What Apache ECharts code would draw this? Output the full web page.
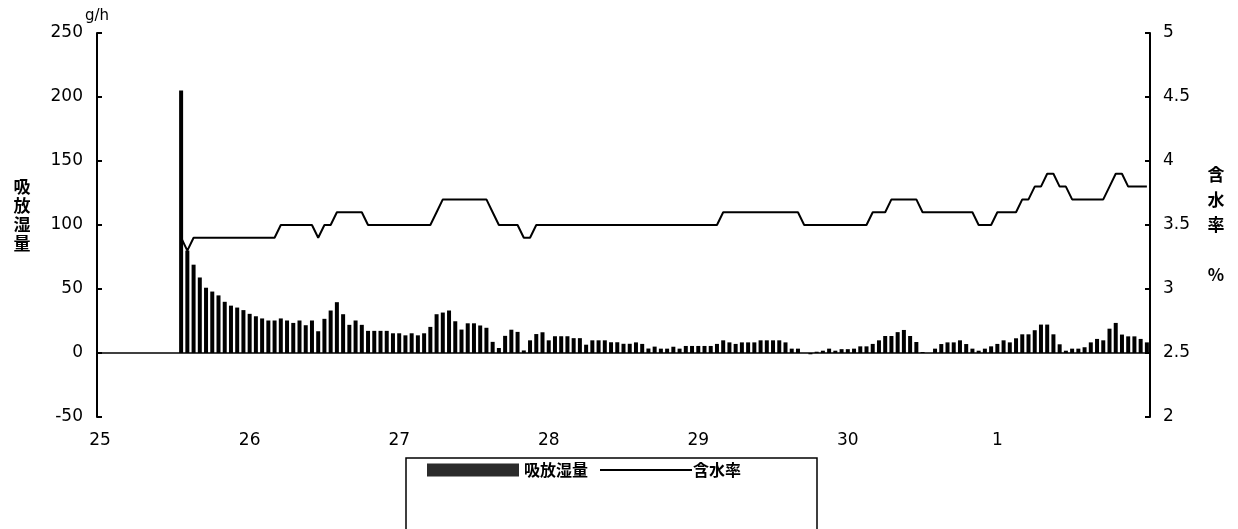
<!DOCTYPE html>
<html>
<head>
<meta charset="utf-8">
<title>吸放湿量・含水率</title>
<script src="https://cdn.jsdelivr.net/npm/echarts@6/dist/echarts.min.js"></script>
<style>
  html, body { margin: 0; padding: 0; background: #fff; }
  #chart { width: 1238px; height: 529px; }
</style>
</head>
<body>
<div id="chart"></div>
<script>
// Day labels on the time axis (one category per hour)
const dayLabels = ['25', '26', '27', '28', '29', '30', '1'];
const hoursPerDay = 24;
const totalHours = 169;
// Measurements begin at 13:00 on the 25th
const startHour = 13;

// Hourly moisture absorption / desorption (g/h)
const moistureFlux = [
  205, 80, 69, 59, 51, 48, 45, 40, 37, 35.5,
  33.5, 30.6, 28.7, 27, 25.4, 25.4, 27, 25.4, 23.5, 25.4,
  21.7, 25.4, 17, 26.7, 33.2, 39.7, 30.3, 22, 25.4, 22,
  17.3, 17.3, 17.3, 17.3, 15.4, 15.4, 13.8, 15.4, 13.8, 15.4,
  20.4, 30.3, 31.6, 33.2, 24.8, 18.3, 23.2, 23.2, 21.5, 19.7,
  8.7, 3.9, 13.4, 18.2, 16.5, 2, 9.9, 14.8, 16.2, 9.9,
  13.1, 13.1, 13.1, 11.6, 11.6, 6.5, 9.9, 9.9, 9.9, 8.4,
  8.4, 7.2, 7.2, 8.3, 7.1, 3.5, 5, 3.4, 3.4, 4.9,
  3.4, 5.5, 5.5, 5.5, 5.5, 5.5, 7.1, 9.9, 8.3, 7.1,
  8.3, 8.3, 8.3, 9.9, 9.9, 9.9, 9.9, 8.3, 3.4, 3.4,
  0, -1, 1, 1.8, 3.4, 1.8, 3, 3, 3.4, 5.2,
  5.2, 7.1, 9.9, 13.3, 13.3, 16.3, 18, 13.3, 8.6, 0.8,
  0, 3.4, 7, 8.3, 8.3, 9.9, 7, 3.4, 1.8, 3.4,
  5.2, 7.1, 9.9, 8.3, 11.5, 14.6, 14.6, 17.8, 22.2, 22.2,
  14.6, 6.8, 1.8, 3.4, 3.4, 4.5, 8.3, 11, 9.9, 19,
  23.5, 14.4, 13, 13, 11, 8.3
];

// Hourly moisture content (%)
const moistureContent = [
  3.4, 3.3, 3.4, 3.4, 3.4, 3.4, 3.4, 3.4, 3.4, 3.4,
  3.4, 3.4, 3.4, 3.4, 3.4, 3.4, 3.5, 3.5, 3.5, 3.5,
  3.5, 3.5, 3.4, 3.5, 3.5, 3.6, 3.6, 3.6, 3.6, 3.6,
  3.5, 3.5, 3.5, 3.5, 3.5, 3.5, 3.5, 3.5, 3.5, 3.5,
  3.5, 3.6, 3.7, 3.7, 3.7, 3.7, 3.7, 3.7, 3.7, 3.7,
  3.6, 3.5, 3.5, 3.5, 3.5, 3.4, 3.4, 3.5, 3.5, 3.5,
  3.5, 3.5, 3.5, 3.5, 3.5, 3.5, 3.5, 3.5, 3.5, 3.5,
  3.5, 3.5, 3.5, 3.5, 3.5, 3.5, 3.5, 3.5, 3.5, 3.5,
  3.5, 3.5, 3.5, 3.5, 3.5, 3.5, 3.5, 3.6, 3.6, 3.6,
  3.6, 3.6, 3.6, 3.6, 3.6, 3.6, 3.6, 3.6, 3.6, 3.6,
  3.5, 3.5, 3.5, 3.5, 3.5, 3.5, 3.5, 3.5, 3.5, 3.5,
  3.5, 3.6, 3.6, 3.6, 3.7, 3.7, 3.7, 3.7, 3.7, 3.6,
  3.6, 3.6, 3.6, 3.6, 3.6, 3.6, 3.6, 3.6, 3.5, 3.5,
  3.5, 3.6, 3.6, 3.6, 3.6, 3.7, 3.7, 3.8, 3.8, 3.9,
  3.9, 3.8, 3.8, 3.7, 3.7, 3.7, 3.7, 3.7, 3.7, 3.8,
  3.9, 3.9, 3.8, 3.8, 3.8, 3.8
];

// Left axis ticks (g/h) and right axis ticks (%)
const fluxAxis = { min: -50, max: 250, interval: 50 };
const contentAxis = { min: 2, max: 5, interval: 0.5 };

const hours = [];
for (let i = 0; i < totalHours; i++) {
  hours.push('h' + i);
}
const lead = new Array(startHour).fill(null);
const fluxData = lead.concat(moistureFlux);
const contentData = lead.concat(moistureContent);

const FONT = '"DejaVu Sans", "Liberation Sans", sans-serif';
const CJK = '"Noto Sans CJK JP", "Noto Sans CJK SC", sans-serif';

const chart = echarts.init(document.getElementById('chart'), null, { renderer: 'canvas' });
chart.setOption({
  animation: false,
  backgroundColor: '#fff',
  grid: { left: 97, right: 88, top: 33, bottom: 112, containLabel: false },
  legend: {
    left: 406,
    top: 458,
    orient: 'horizontal',
    padding: [4, 76, 80, 21],
    borderColor: '#000',
    borderWidth: 1.5,
    itemWidth: 92,
    itemHeight: 13,
    itemGap: 11,
    textStyle: { fontFamily: CJK, fontSize: 16, color: '#000', fontWeight: 'bold' },
    data: [
      { name: '吸放湿量', icon: 'rect', itemStyle: { color: '#2b2b2b' } },
      { name: '含水率', itemStyle: { opacity: 0 }, textStyle: { padding: [0, 0, 0, -4] } }
    ]
  },
  xAxis: {
    type: 'category',
    data: hours,
    boundaryGap: true,
    axisLine: { show: false, onZero: false },
    axisTick: { show: false },
    splitLine: { show: false },
    axisLabel: {
      margin: 15,
      interval: function (idx) {
        return idx % hoursPerDay === 0 && idx / hoursPerDay < dayLabels.length;
      },
      formatter: function (v, idx) {
        return dayLabels[Math.floor(idx / hoursPerDay)] || '';
      },
      fontFamily: FONT,
      fontSize: 17,
      color: '#000'
    }
  },
  yAxis: [
    {
      type: 'value',
      position: 'left',
      min: fluxAxis.min,
      max: fluxAxis.max,
      interval: fluxAxis.interval,
      name: 'g/h',
      nameLocation: 'end',
      nameGap: 9,
      nameTextStyle: { fontFamily: FONT, fontSize: 15, color: '#000' },
      axisLine: { show: true, lineStyle: { color: '#000', width: 2 } },
      axisTick: { show: true, inside: true, length: 5, lineStyle: { color: '#000', width: 2 } },
      splitLine: { show: false },
      axisLabel: { margin: 14, fontFamily: FONT, fontSize: 17, color: '#000' }
    },
    {
      type: 'value',
      position: 'right',
      min: contentAxis.min,
      max: contentAxis.max,
      interval: contentAxis.interval,
      axisLine: { show: true, lineStyle: { color: '#000', width: 2 } },
      axisTick: { show: true, inside: true, length: 5, lineStyle: { color: '#000', width: 2 } },
      splitLine: { show: false },
      axisLabel: { margin: 13, fontFamily: FONT, fontSize: 17, color: '#000' }
    },
    {
      // axis titles drawn beside each vertical axis
      type: 'value', position: 'left', show: true,
      min: 0, max: 1,
      axisLine: { show: false }, axisTick: { show: false }, axisLabel: { show: false }, splitLine: { show: false },
      name: '吸\n放\n湿\n量\n',
      nameLocation: 'middle',
      nameRotate: 0,
      nameGap: 75,
      nameTextStyle: { fontFamily: CJK, fontSize: 17, fontWeight: 'bold', color: '#000', align: 'center', lineHeight: 19 }
    },
    {
      type: 'value', position: 'right', show: true,
      min: 0, max: 1,
      axisLine: { show: false }, axisTick: { show: false }, axisLabel: { show: false }, splitLine: { show: false },
      name: '含\n水\n率\n\n%',
      nameLocation: 'middle',
      nameRotate: 0,
      nameGap: 66,
      nameTextStyle: { fontFamily: CJK, fontSize: 17, fontWeight: 'bold', color: '#000', align: 'center', lineHeight: 25 }
    }
  ],
  series: [
    {
      name: '吸放湿量',
      type: 'bar',
      yAxisIndex: 0,
      data: fluxData,
      barWidth: 4,
      itemStyle: { color: '#000' },
      markLine: {
        silent: true,
        symbol: ['none', 'none'],
        label: { show: false },
        lineStyle: { color: '#000', width: 1.5, type: 'solid' },
        data: [{ yAxis: 0 }]
      }
    },
    {
      name: '含水率',
      type: 'line',
      yAxisIndex: 1,
      data: contentData,
      symbol: 'none',
      showSymbol: false,
      connectNulls: false,
      lineStyle: { color: '#000', width: 2 },
      itemStyle: { color: '#000' }
    }
  ]
});
</script>
</body>
</html>
